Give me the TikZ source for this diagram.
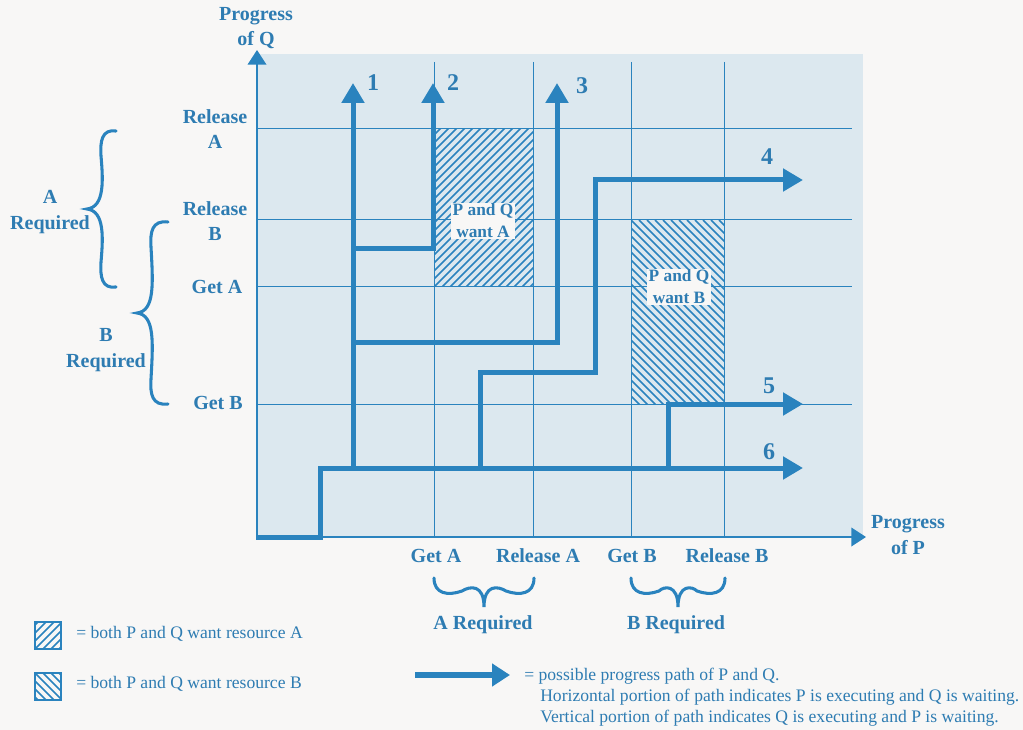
\documentclass[tikz,border=0pt]{standalone}
\usepackage{fontspec}
\setmainfont{Liberation Serif}
\usetikzlibrary{arrows.meta}
\definecolor{lineblue}{HTML}{2A83BE}
\definecolor{txtblue}{HTML}{2E7CB2}
\definecolor{plotbg}{HTML}{DCE8EF}
\definecolor{pagebg}{HTML}{F8F7F6}
% vertical left-pointing brace: end x, spine x, tip x, top y, bottom y, mid y
\newcommand\vbrc[6]{%
  \draw[brc] (#1,#4) .. controls (#2,#4-2) and (#2-2,#4+10) .. (#2-1,#4+25)
    .. controls (#2+1,#6-30) and (#2+3,#6-2) .. (#3,#6)
    .. controls (#2+3,#6+2) and (#2+1,#6+30) .. (#2-1,#5-25)
    .. controls (#2-2,#5-10) and (#2,#5+2) .. (#1,#5);}
% horizontal down-pointing brace: left x, right x, centre x, end y, tip y
\newcommand\hbrc[5]{%
  \draw[brc] (#1,#4) .. controls (#1,#4+16) and (#1+14,#4+18) .. (#1+28,#4+13)
    .. controls (#3-14,#4+8) and (#3,#4+6) .. (#3,#5)
    .. controls (#3,#4+6) and (#3+14,#4+8) .. (#2-28,#4+13)
    .. controls (#2-14,#4+18) and (#2,#4+16) .. (#2,#4);}
\begin{document}
\begin{tikzpicture}[x=0.75pt,y=-0.75pt,
  lbl/.style={text=txtblue,font=\bfseries\fontsize{15}{19}\selectfont,align=center,inner sep=0pt},
  numlbl/.style={text=txtblue,font=\bfseries\fontsize{18}{20}\selectfont,inner sep=0pt},
  legtxt/.style={text=txtblue,font=\fontsize{13.2}{16}\selectfont,inner sep=0pt,anchor=west},
  boxlbl/.style={text=txtblue,font=\bfseries\fontsize{13}{16.5}\selectfont,align=center,fill=pagebg,inner sep=1pt},
  gridln/.style={draw=lineblue,line width=0.75pt},
  axisln/.style={draw=lineblue,line width=1.1pt,-{Triangle[length=11pt,width=14pt]}},
  hatchln/.style={draw=lineblue,line width=1.3pt},
  prog/.style={draw=lineblue,line width=3.75pt,line join=miter},
  progarrow/.style={prog,-{Triangle[length=15pt,width=16.5pt]}},
  brc/.style={draw=lineblue,line width=2.3pt,line cap=round},
]
\useasboundingbox (0,0) rectangle (1023,730);
\fill[pagebg] (0,0) rectangle (1023,730);
% plot area
\fill[plotbg] (257,54) rectangle (863,537);
% grid
\foreach \gx in {434,533,631,724} \draw[gridln] (\gx,62) -- (\gx,537);
\foreach \gy in {129,220,287,404} \draw[gridln] (257,\gy) -- (852,\gy);
% hatched region A
\begin{scope}
  \clip (434,129) rectangle (533,287);
  \foreach \k in {-200,-192,...,200} \draw[hatchln] (434+\k,287) -- ++(250,-250);
\end{scope}
% hatched region B
\begin{scope}
  \clip (631,220) rectangle (724,404);
  \foreach \k in {-200,-192,...,200} \draw[hatchln] (631+\k,220) -- ++(250,250);
\end{scope}
\node[boxlbl] (wantA) at (483,221) {P and Q\\want A};
\node[boxlbl] (wantB) at (679,287) {P and Q\\want B};
% axes
\coordinate (O) at (257,537);
\coordinate (Ytip) at (257,50);
\coordinate (Xtip) at (866,537);
\draw[axisln] (O) -- (Ytip);
\draw[axisln] (O) -- (Xtip);
% progress paths
\coordinate (s6) at (256,537);
\coordinate (e6) at (803,468);
\draw[progarrow] (s6) -- (320,537) -- (320,468) -- (e6);
\coordinate (s1) at (353,468);
\coordinate (e1) at (353,83);
\draw[progarrow] (s1) -- (e1);
\coordinate (s2) at (353,249);
\coordinate (e2) at (433,83);
\draw[progarrow] (s2) -- (433,249) -- (e2);
\coordinate (s3) at (353,343);
\coordinate (e3) at (557,83);
\draw[progarrow] (s3) -- (557,343) -- (e3);
\coordinate (s4) at (480,468);
\coordinate (e4) at (803,180);
\draw[progarrow] (s4) -- (480,373) -- (595,373) -- (595,180) -- (e4);
\coordinate (s5) at (668,468);
\coordinate (e5) at (803,404);
\draw[progarrow] (s5) -- (668,404) -- (e5);
% path numbers
\node[numlbl] (n1) at (373,83) {1};
\node[numlbl] (n2) at (453,83) {2};
\node[numlbl] (n3) at (582,86) {3};
\node[numlbl] (n4) at (767,157) {4};
\node[numlbl] (n5) at (769,386) {5};
\node[numlbl] (n6) at (769,452) {6};
% axis titles
\node[lbl] (pq) at (256,28) {Progress\\of Q};
\node[lbl] (pp) at (908,535) {Progress\\of P};
% y labels
\node[lbl] (yRA) at (215,129) {Release\\A};
\node[lbl] (yRB) at (215,221) {Release\\B};
\node[lbl] (yGA) at (217,287) {Get A};
\node[lbl] (yGB) at (218,403) {Get B};
% x labels
\node[lbl] (xGA) at (436,556) {Get A};
\node[lbl] (xRA) at (538,556) {Release A};
\node[lbl] (xGB) at (632,556) {Get B};
\node[lbl] (xRB) at (727,556) {Release B};
% braces
\vbrc{116}{102}{87}{131}{287}{209}
\vbrc{168}{152}{137}{222}{404}{313}
\hbrc{434}{534}{484}{578}{607}
\hbrc{631}{725}{678}{578}{607}
\node[lbl] (reqA) at (50,212) {A\\Required};
\node[lbl] (reqB) at (106,350) {B\\Required};
\node[lbl] (reqAx) at (483,625) {A Required};
\node[lbl] (reqBx) at (676,625) {B Required};
% legend boxes
\begin{scope}
  \clip (35,622) rectangle (61,649);
  \foreach \k in {-40,-32,...,40} \draw[hatchln] (35+\k,649) -- ++(40,-40);
\end{scope}
\draw[draw=lineblue,line width=1.1pt] (35,622) rectangle (61,649);
\begin{scope}
  \clip (35,673) rectangle (61,700);
  \foreach \k in {-40,-32,...,40} \draw[hatchln] (35+\k,673) -- ++(40,40);
\end{scope}
\draw[draw=lineblue,line width=1.1pt] (35,673) rectangle (61,700);
\node[legtxt] (legA) at (76,634) {= both P and Q want resource A};
\node[legtxt] (legB) at (76,684) {= both P and Q want resource B};
% legend arrow
\coordinate (la1) at (415,675);
\coordinate (la2) at (510,675);
\draw[draw=lineblue,line width=4.5pt,-{Triangle[length=13.5pt,width=16.5pt]}] (la1) -- (la2);
\node[legtxt] (leg1) at (524,676) {= possible progress path of P and Q.};
\node[legtxt] (leg2) at (540,697) {Horizontal portion of path indicates P is executing and Q is waiting.};
\node[legtxt] (leg3) at (540,718) {Vertical portion of path indicates Q is executing and P is waiting.};
\end{tikzpicture}
\end{document}
